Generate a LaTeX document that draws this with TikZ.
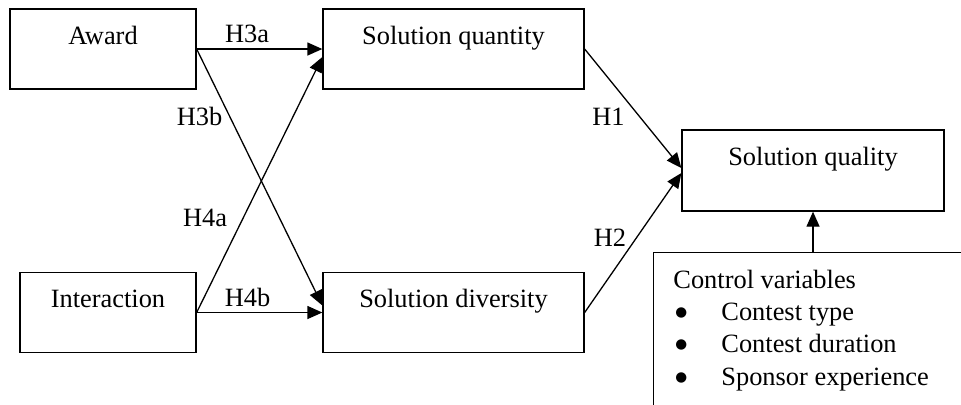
\documentclass[tikz,border=0pt]{standalone}
\usepackage{fontspec}
\setmainfont{Liberation Serif}
\newfontfamily\dejavu{DejaVu Sans}
\usetikzlibrary{arrows.meta,calc}
\newcommand{\bigbul}{\makebox[23pt][l]{\raisebox{2pt}{\dejavu\fontsize{6.8}{8}\selectfont ●}}}
\begin{document}
\begin{tikzpicture}[x=0.5pt,y=-0.5pt,
  font=\fontsize{13.2}{16.2}\selectfont,
  box/.style={draw, line width=0.65pt, inner sep=0pt, minimum height=40pt,
    text height=17.5pt, text depth=22.5pt},
  link/.style={draw, line width=0.65pt, -{Triangle[length=7.5pt,width=6.5pt]}},
  hlab/.style={anchor=base, inner sep=0pt}]
\useasboundingbox (0,0) rectangle (961,404);
\clip (0,0) rectangle (961,404);
% boxes
\node[box, minimum width=93pt] (award) at (103,49) {Award};
\node[box, minimum width=130.5pt] (squant) at (453.5,49) {Solution quantity};
\node[box, minimum width=88pt] (inter) at (108,312.5) {Interaction};
\node[box, minimum width=130.5pt] (sdiv) at (453.5,312.5) {Solution diversity};
\node[box, minimum width=131pt, minimum height=40.5pt] (squal) at (813,170.5) {Solution quality};
\node[draw, line width=0.65pt, anchor=north west, inner sep=0pt,
  minimum width=170pt, minimum height=90pt] (ctrl) at (653,252) {};
\node[anchor=base west, inner sep=0pt] (ctrltxt) at (673,288)
  {\parbox[t]{150pt}{\fontsize{13.2}{16.2}\selectfont
   Control variables\\
   \hspace*{1pt}\bigbul Contest type\\
   \hspace*{1pt}\bigbul Contest duration\\
   \hspace*{1pt}\bigbul Sponsor experience}};
% connectors
\draw[link] (award.east) -- (squant.west);
\draw[link] (award.east) -- ($(sdiv.west)+(0,-7)$);
\draw[link] (inter.east) -- ($(squant.west)+(0,8)$);
\draw[link] (inter.east) -- (sdiv.west);
\draw[link] (squant.east) -- ($(squal.west)+(0,-2.5)$);
\draw[link] (sdiv.east) -- ($(squal.west)+(0,2.5)$);
\draw[link] (ctrl.north -| squal.south) -- (squal.south);
% labels
\node[hlab] (h3a) at (247,42) {H3a};
\node[hlab] (h3b) at (199.5,125) {H3b};
\node[hlab] (h4a) at (205,226) {H4a};
\node[hlab] (h4b) at (247.5,306.5) {H4b};
\node[hlab] (h1) at (608.5,125) {H1};
\node[hlab] (h2) at (610,246) {H2};
\end{tikzpicture}
\end{document}
